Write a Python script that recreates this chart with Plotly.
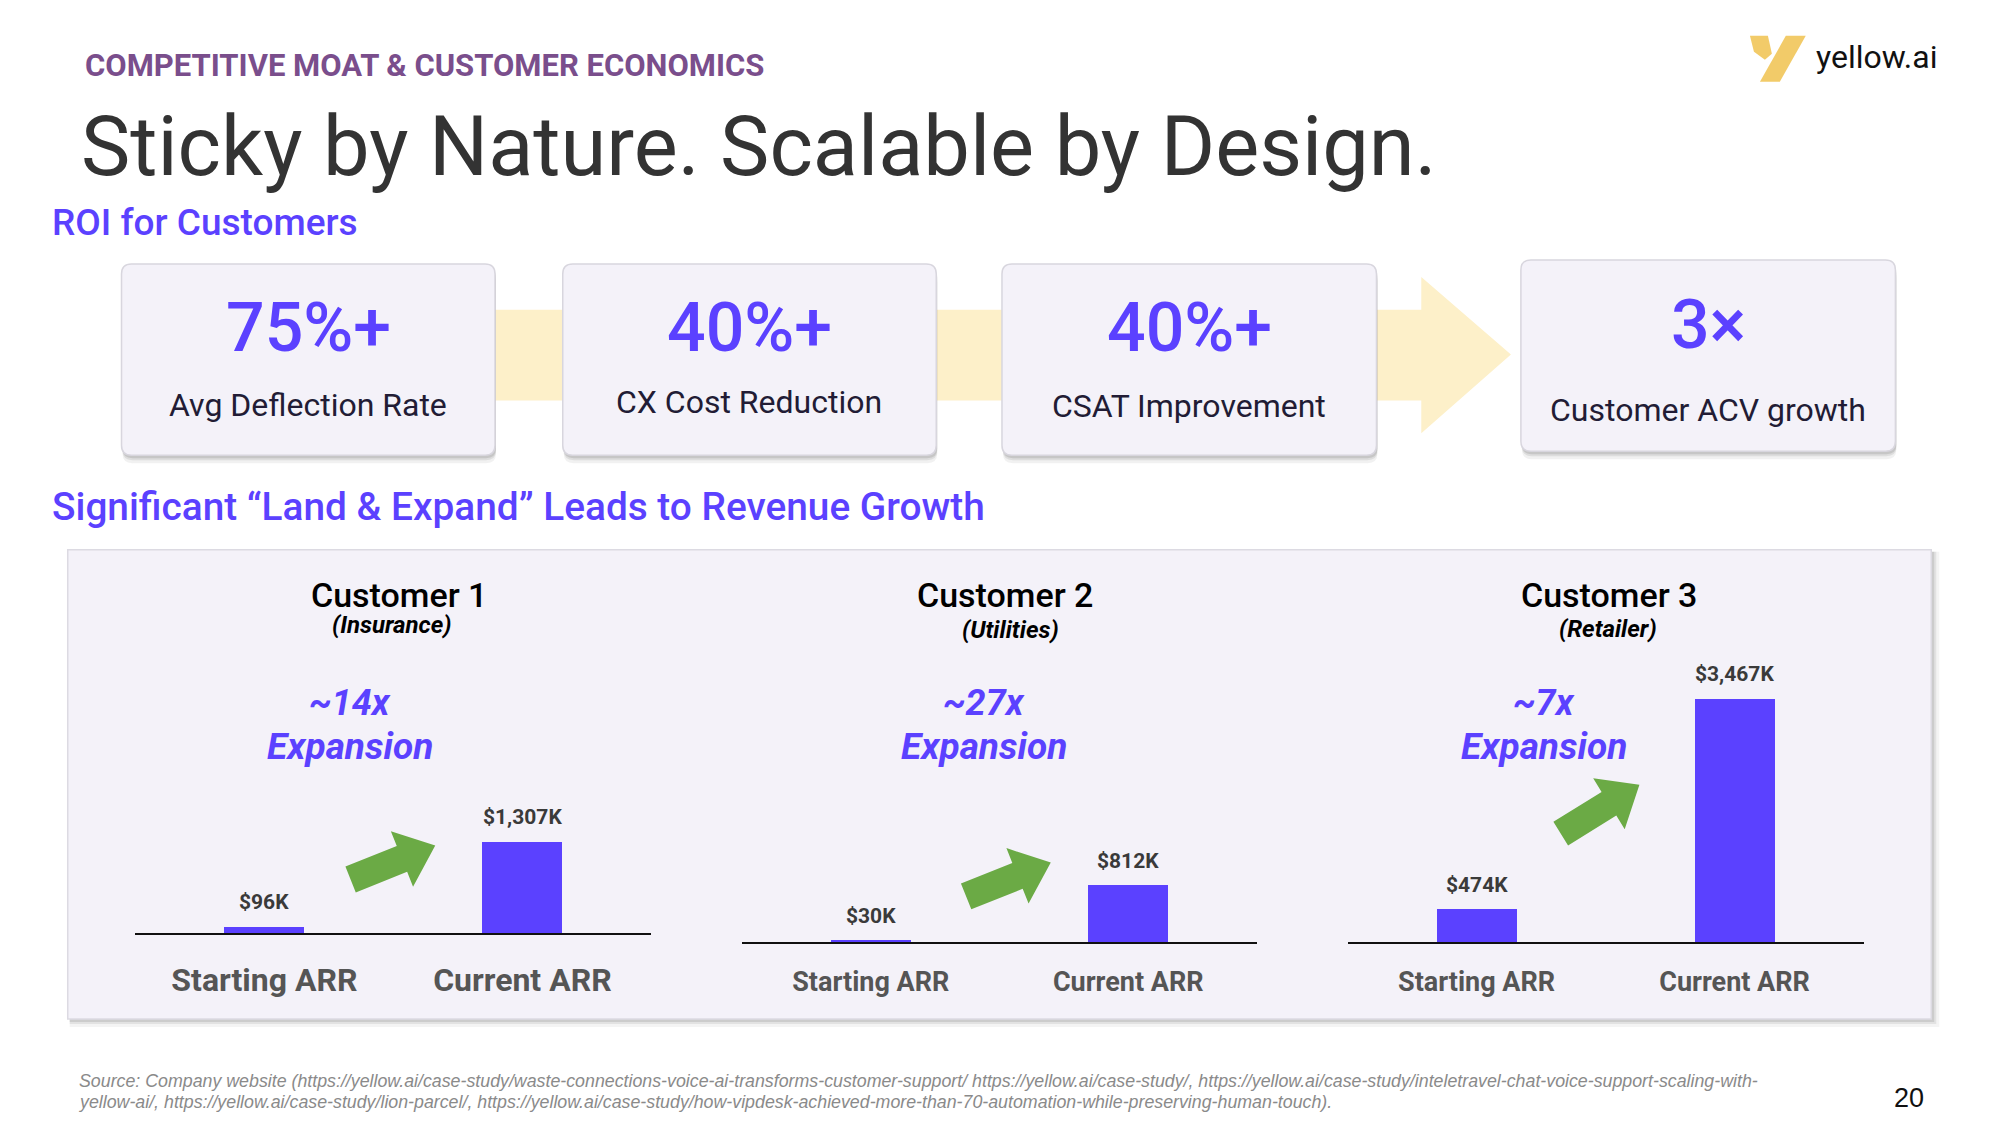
import plotly.graph_objects as go

W, H = 2000, 1125
OFF = 8      # default page margin of the html body
S = 0.996    # small scale correction

# ---------------- data ----------------
kpi_values = ["75%+", "40%+", "40%+", "3×"]
kpi_labels = ["Avg Deflection Rate", "CX Cost Reduction", "CSAT Improvement", "Customer ACV growth"]

customers = ["Customer 1", "Customer 2", "Customer 3"]
industries = ["(Insurance)", "(Utilities)", "(Retailer)"]
multiples = ["~14x", "~27x", "~7x"]
categories = ["Starting ARR", "Current ARR"]
starting_arr = [96, 30, 474]      # $K
current_arr = [1307, 812, 3467]   # $K

source_lines = [
    "Source: Company website (https://yellow.ai/case-study/waste-connections-voice-ai-transforms-customer-support/ https://yellow.ai/case-study/, https://yellow.ai/case-study/inteletravel-chat-voice-support-scaling-with-",
    "yellow-ai/, https://yellow.ai/case-study/lion-parcel/, https://yellow.ai/case-study/how-vipdesk-achieved-more-than-70-automation-while-preserving-human-touch).",
]

# ---------------- styles ----------------
INDIGO = "#5B41FF"
PURPLE = "#7A4E8C"
DARK = "#333333"
BOX_FILL = "#F4F2F9"
BAND = "#FDF0C9"
GREEN = "#6BAA45"
FONT = "Roboto"


def X(px):
    return (px * S - OFF) / W


def Y(py):
    return 1 - (py * S - OFF) / H


def rrect(x0, y0, x1, y1, r):
    return (f"M {X(x0+r)},{Y(y0)} L {X(x1-r)},{Y(y0)} Q {X(x1)},{Y(y0)} {X(x1)},{Y(y0+r)} "
            f"L {X(x1)},{Y(y1-r)} Q {X(x1)},{Y(y1)} {X(x1-r)},{Y(y1)} "
            f"L {X(x0+r)},{Y(y1)} Q {X(x0)},{Y(y1)} {X(x0)},{Y(y1-r)} "
            f"L {X(x0)},{Y(y0+r)} Q {X(x0)},{Y(y0)} {X(x0+r)},{Y(y0)} Z")


def poly(pts):
    return "M " + " L ".join(f"{X(a)},{Y(b)}" for a, b in pts) + " Z"


def block_arrow(tail, tip, sw=28, hw=60, hl=36):
    tx, ty = tail
    hx, hy = tip
    L = ((hx - tx) ** 2 + (hy - ty) ** 2) ** 0.5
    ux, uy = (hx - tx) / L, (hy - ty) / L
    nx, ny = -uy, ux
    bx, by = hx - ux * hl, hy - uy * hl
    pts = [
        (tx + nx * sw / 2, ty + ny * sw / 2),
        (bx + nx * sw / 2, by + ny * sw / 2),
        (bx + nx * hw / 2, by + ny * hw / 2),
        (hx, hy),
        (bx - nx * hw / 2, by - ny * hw / 2),
        (bx - nx * sw / 2, by - ny * sw / 2),
        (tx - nx * sw / 2, ty - ny * sw / 2),
    ]
    return poly(pts)


shapes = []
annotations = []


def text(x, y, s, size, color, weight="normal", style="normal", family=FONT,
         xanchor="center", yanchor="middle"):
    annotations.append(dict(
        x=X(x), y=Y(y), xref="paper", yref="paper", text=s, showarrow=False,
        xanchor=xanchor, yanchor=yanchor,
        font=dict(size=size, color=color, family=family, weight=weight, style=style)))


# ---------------- header ----------------
text(83, 66, "COMPETITIVE MOAT &amp; CUSTOMER ECONOMICS", 31, PURPLE, weight="bold", xanchor="left")
text(79, 147, "Sticky by Nature. Scalable by Design.", 83, DARK, xanchor="left")
text(50, 223, "ROI for Customers", 37, INDIGO, weight=500, xanchor="left")
text(50, 509, "Significant “Land &amp; Expand” Leads to Revenue Growth", 38.8, INDIGO, weight=500, xanchor="left")

# logo
shapes.append(dict(type="path", xref="paper", yref="paper", layer="above",
                   path=poly([(1757, 36), (1775, 36), (1779, 54), (1772, 60), (1761, 52)]),
                   fillcolor="#F2CB69", line=dict(width=0)))
shapes.append(dict(type="path", xref="paper", yref="paper", layer="above",
                   path=poly([(1793, 36), (1813, 36), (1787, 82), (1767, 82)]),
                   fillcolor="#F2CB69", line=dict(width=0)))
text(1821, 57, "yellow.ai", 32, "#111111", xanchor="left")

# ---------------- KPI row ----------------
shapes.append(dict(type="path", xref="paper", yref="paper", layer="below",
                   path=poly([(497, 311), (1427, 311), (1427, 278), (1517, 356),
                              (1427, 435), (1427, 402), (497, 402)]),
                   fillcolor=BAND, line=dict(width=0)))

boxes = [(122, 265, 497, 457), (565, 265, 940, 457), (1006, 265, 1382, 457), (1527, 261, 1903, 453)]
val_y = [329, 329, 329, 326]
lab_y = [407, 404, 408, 412]
for i, (x0, y0, x1, y1) in enumerate(boxes):
    for k, (d, op) in enumerate([(8, 0.10), (5, 0.16), (3, 0.22)]):
        shapes.append(dict(type="path", xref="paper", yref="paper", layer="below",
                           path=rrect(x0 + 1, y0 + d, x1 + 1, y1 + d, 10),
                           fillcolor=f"rgba(120,120,120,{op})", line=dict(width=0)))
    shapes.append(dict(type="path", xref="paper", yref="paper", layer="below",
                       path=rrect(x0, y0, x1, y1, 10),
                       fillcolor=BOX_FILL, line=dict(color="#D8D6DE", width=1.5)))
    cx = (x0 + x1) / 2
    text(cx, val_y[i], kpi_values[i], 68, INDIGO, weight=500)
    text(cx, lab_y[i], kpi_labels[i], 32, "#221C35")

# ---------------- panel ----------------
px0, py0, px1, py1 = 68, 552, 1939, 1023
for d, op in [(8, 0.08), (5, 0.14), (3, 0.2)]:
    shapes.append(dict(type="rect", xref="paper", yref="paper", layer="below",
                       x0=X(px0 + 2), x1=X(px1 + d), y0=Y(py0 + 2), y1=Y(py1 + d),
                       fillcolor=f"rgba(120,120,120,{op})", line=dict(width=0)))
shapes.append(dict(type="rect", xref="paper", yref="paper", layer="below",
                   x0=X(px0), x1=X(px1), y0=Y(py0), y1=Y(py1),
                   fillcolor=BOX_FILL, line=dict(color="#DCDAE2", width=1.5)))

# ---------------- charts ----------------
axes_x = [(136, 654), (745, 1262), (1353, 1871)]
baselines = [937, 946, 946]
px_per_k = 0.0704
YMAX = 4000
tick_sizes = [32, 27, 27]
tick_standoff = [17, 14, 14]
title_pos = [(401, 597, 394, 628), (1009, 597, 1015, 633), (1615, 597, 1614, 632)]
exp_x = [351, 988, 1550]
arrows = [((352, 883), (437, 849)), ((970, 900), (1055, 866)), ((1567, 837), (1646, 788))]

fig = go.Figure()
layout_axes = {}
for i in range(3):
    xa = "x" if i == 0 else f"x{i+1}"
    ya = "y" if i == 0 else f"y{i+1}"
    fig.add_trace(go.Bar(
        x=categories, y=[starting_arr[i], current_arr[i]],
        xaxis=xa, yaxis=ya, width=0.31,
        marker=dict(color=INDIGO, line=dict(width=0)),
        hoverinfo="skip", showlegend=False))
    x0, x1 = axes_x[i]
    base = baselines[i]
    dom_y = [Y(base), Y(base) + YMAX * px_per_k / H]
    xkey = "xaxis" if i == 0 else f"xaxis{i+1}"
    ykey = "yaxis" if i == 0 else f"yaxis{i+1}"
    layout_axes[xkey] = dict(
        domain=[X(x0), X(x1)], anchor=ya, type="category", range=[-0.5, 1.5],
        showline=True, linecolor="#111111", linewidth=2, ticks="", showgrid=False,
        zeroline=False, ticklabelstandoff=tick_standoff[i],
        tickfont=dict(family=FONT, size=tick_sizes[i], color="#555555", weight="bold"))
    layout_axes[ykey] = dict(domain=dom_y, anchor=xa, range=[0, YMAX], visible=False,
                             showgrid=False, zeroline=False)
    for c, v in zip(categories, [starting_arr[i], current_arr[i]]):
        annotations.append(dict(
            x=c, y=v, xref=xa, yref=ya, text=f"${v:,}K", showarrow=False,
            yanchor="bottom", yshift=10,
            font=dict(family=FONT, size=21, color="#3A3A3A", weight="bold")))
    tx, ty, sx, sy = title_pos[i]
    text(tx, ty, customers[i], 34, "#000000", weight=500)
    text(sx, sy, industries[i], 24, "#000000", weight="bold", style="italic")
    text(exp_x[i], 706, multiples[i], 36, INDIGO, weight="bold", style="italic")
    text(exp_x[i], 749, "Expansion", 37, INDIGO, weight="bold", style="italic")
    shapes.append(dict(type="path", xref="paper", yref="paper", layer="above",
                       path=block_arrow(*arrows[i]), fillcolor=GREEN, line=dict(width=0)))

# ---------------- footer ----------------
text(77, 1085, source_lines[0], 17.8, "#8A8A8A", style="italic", family="Liberation Sans", xanchor="left")
text(77, 1106, source_lines[1], 17.8, "#8A8A8A", style="italic", family="Liberation Sans", xanchor="left")
text(1917, 1102, "20", 27, "#111111", family="Liberation Sans")

fig.update_layout(
    width=W, height=H, margin=dict(l=0, r=0, t=0, b=0),
    paper_bgcolor="white", plot_bgcolor="rgba(0,0,0,0)",
    shapes=shapes, annotations=annotations, bargap=0, showlegend=False,
    font=dict(family=FONT),
    **layout_axes)

fig.write_html("out.html")
